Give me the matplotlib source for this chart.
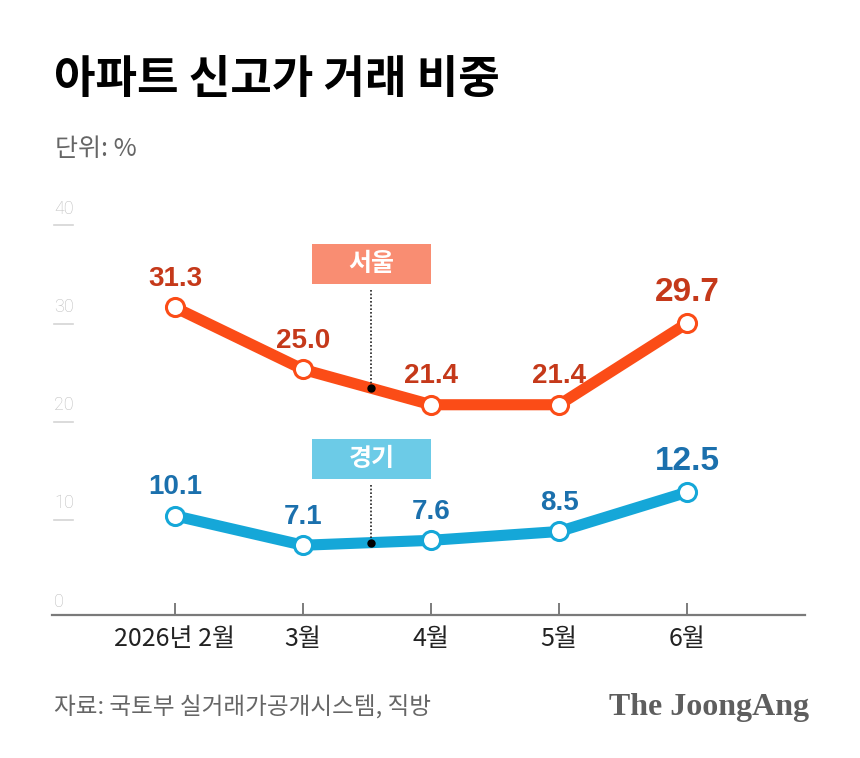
import numpy as np
import matplotlib
matplotlib.use("Agg")
import matplotlib.pyplot as plt
from matplotlib.patches import Rectangle
import matplotlib.transforms as mtransforms

plt.rcParams['font.family'] = ['Noto Sans CJK KR', 'DejaVu Sans']

months = ["2026년 2월", "3월", "4월", "5월", "6월"]
seoul = [31.3, 25.0, 21.4, 21.4, 29.7]
gyeonggi = [10.1, 7.1, 7.6, 8.5, 12.5]
yticks = [0, 10, 20, 30, 40]

W, H = 860, 758
fig = plt.figure(figsize=(W / 100, H / 100), dpi=100)
fig.patch.set_facecolor("white")

def fx(px):
    return px / W

def fy(py):
    return 1 - py / H

# axes: x 52..805 px, y=0 at 615 px, y=40 at 222 px
ax = fig.add_axes([fx(52), fy(615), fx(805) - fx(52), fy(222) - fy(615)])
ax.set_xlim(-0.96, 4.92)
ax.set_ylim(0, 40)
for s in ["top", "right", "left"]:
    ax.spines[s].set_visible(False)
ax.spines["bottom"].set_color("#7a7a7a")
ax.spines["bottom"].set_linewidth(1.6)
ax.set_yticks([])
x = np.arange(len(months))
ax.set_xticks(x)
ax.set_xticklabels(months, fontsize=18, color="#222222")
ax.tick_params(axis="x", direction="in", length=9, width=1.2, color="#666666", pad=8)
ax.set_facecolor("none")

# y labels with short lines
ytrans = mtransforms.blended_transform_factory(ax.transAxes, ax.transData)
for v in yticks:
    ax.text(0.003, v + 0.45, str(v), transform=ytrans, fontsize=13, color="#bdbdbd",
            ha="left", va="bottom", family=["Roboto"], fontweight="light")
    if v > 0:
        ax.plot([0.003, 0.028], [v - 0.35, v - 0.35], transform=ytrans,
                color="#d4d4d4", lw=1.2, clip_on=False)

seoul_line = "#fb4c17"
seoul_text = "#c5391a"
gg_line = "#15a7d8"
gg_text = "#1b70ad"

for ser, col in ((seoul, seoul_line), (gyeonggi, gg_line)):
    ax.plot(x, ser, color=col, lw=8, solid_capstyle="butt", solid_joinstyle="round",
            zorder=3, clip_on=False)
    ax.plot(x, ser, ls="none", marker="o", ms=13, mfc="white", mec=col, mew=2.2,
            zorder=4, clip_on=False)

for i, (a, b) in enumerate(zip(seoul, gyeonggi)):
    last = i == len(months) - 1
    fs = 24 if last else 20
    off = 22 if last else 20.5
    for val, col in ((a, seoul_text), (b, gg_text)):
        ax.annotate(f"{val:.1f}", (i, val), xytext=(0, off), textcoords="offset points",
                    ha="center", va="center", fontsize=fs, fontweight="bold",
                    color=col, family=["Liberation Sans"], zorder=5)

# callout boxes
xp = 1.53
def callout(series, y0, y1, face, label):
    x0 = (312 - 175) / 128
    x1 = (431 - 175) / 128
    ax.add_patch(Rectangle((x0, y0), x1 - x0, y1 - y0, facecolor=face,
                           edgecolor="none", clip_on=False, zorder=2))
    ax.text((x0 + x1) / 2, (y0 + y1) / 2, label, ha="center", va="center",
            color="white", fontsize=18, fontweight="bold", zorder=3)
    yd = float(np.interp(xp, x, series))
    ax.plot([xp, xp], [y0 - 0.6, yd], color="#222222", lw=1.2, ls=(0, (1, 1.2)),
            zorder=5, clip_on=False)
    ax.plot([xp], [yd], marker="o", ms=5, color="black", zorder=6, clip_on=False)

callout(seoul, 33.7, 37.8, "#f98d72", "서울")
callout(gyeonggi, 13.8, 17.9, "#6ccbe7", "경기")

# titles
fig.text(fx(54), fy(80), "아파트 신고가 거래 비중", fontsize=32.5, fontweight="heavy",
         color="black", ha="left", va="center")
fig.text(fx(55), fy(149), "단위: %", fontsize=18, color="#666666", ha="left", va="center")

fig.text(fx(54), fy(707), "자료: 국토부 실거래가공개시스템, 직방", fontsize=17,
         color="#666666", ha="left", va="center")
fig.text(fx(809), fy(707), "The JoongAng", fontsize=23, fontweight="bold",
         color="#5e5e5e", ha="right", va="center", family=["Liberation Serif"])

fig.savefig("out.png", dpi=100, facecolor="white")
